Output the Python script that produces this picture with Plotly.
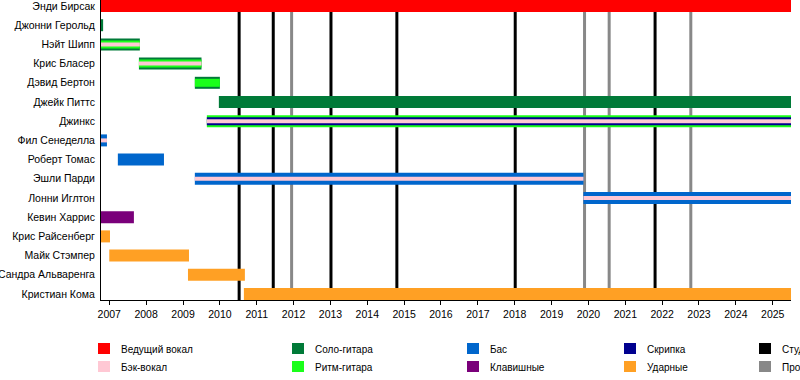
import pandas as pd
import plotly.graph_objects as go

# ---------------- data ----------------
members = ["Энди Бирсак", "Джонни Герольд", "Нэйт Шипп", "Крис Бласер", "Дэвид Бертон",
           "Джейк Питтс", "Джинкс", "Фил Сенеделла", "Роберт Томас", "Эшли Парди",
           "Лонни Иглтон", "Кевин Харрис", "Крис Райсенберг", "Майк Стэмпер",
           "Сандра Альваренга", "Кристиан Кома"]

timeline_start = "2006-10-11"
timeline_end = "2025-07-01"

roles = ["Ведущий вокал", "Бэк-вокал", "Соло-гитара", "Ритм-гитара",
         "Бас", "Клавишные", "Скрипка", "Ударные"]
role_colors = ["#FF0000", "#FFC8D4", "#007A38", "#1AFF1A",
               "#0066CC", "#7A007A", "#00008F", "#FFA024"]

# each period: member, start, end, role, tier (0 = main bar, 1 = inner, 2 = centre stripe)
bar_member = ["Энди Бирсак", "Джонни Герольд",
              "Нэйт Шипп", "Нэйт Шипп", "Нэйт Шипп",
              "Крис Бласер", "Крис Бласер", "Крис Бласер",
              "Дэвид Бертон", "Дэвид Бертон",
              "Джейк Питтс",
              "Джинкс", "Джинкс", "Джинкс",
              "Фил Сенеделла", "Фил Сенеделла",
              "Роберт Томас",
              "Эшли Парди", "Эшли Парди",
              "Лонни Иглтон", "Лонни Иглтон",
              "Кевин Харрис", "Крис Райсенберг", "Майк Стэмпер",
              "Сандра Альваренга", "Кристиан Кома"]
bar_start = ["2006-10-11", "2006-10-11",
             "2006-10-11", "2006-10-11", "2006-10-11",
             "2007-10-22", "2007-10-22", "2007-10-22",
             "2009-04-28", "2009-04-28",
             "2009-12-22",
             "2009-08-25", "2009-08-25", "2009-08-25",
             "2006-10-11", "2006-10-11",
             "2007-03-27",
             "2009-04-28", "2009-04-28",
             "2019-11-13", "2019-11-13",
             "2006-10-11", "2006-10-11", "2007-01-01",
             "2009-02-19", "2010-08-27"]
bar_end = ["end", "2006-11-01",
           "2007-10-31", "2007-10-31", "2007-10-31",
           "2009-07-03", "2009-07-03", "2009-07-03",
           "2010-01-01", "2010-01-01",
           "end",
           "end", "end", "end",
           "2006-12-09", "2006-12-09",
           "2008-06-26",
           "2019-11-13", "2019-11-13",
           "end", "end",
           "2007-09-02", "2007-01-08", "2009-03-01",
           "2010-09-06", "end"]
bar_role = ["Ведущий вокал", "Соло-гитара",
            "Соло-гитара", "Ритм-гитара", "Бэк-вокал",
            "Соло-гитара", "Ритм-гитара", "Бэк-вокал",
            "Соло-гитара", "Ритм-гитара",
            "Соло-гитара",
            "Ритм-гитара", "Скрипка", "Бэк-вокал",
            "Бас", "Бэк-вокал",
            "Бас",
            "Бас", "Бэк-вокал",
            "Бас", "Бэк-вокал",
            "Клавишные", "Ударные", "Ударные",
            "Ударные", "Ударные"]
bar_tier = [0, 0,
            0, 1, 2,
            0, 1, 2,
            0, 1,
            0,
            0, 1, 2,
            0, 2,
            0,
            0, 2,
            0, 2,
            0, 0, 0,
            0, 0]

studio_albums = ["2010-07-11", "2011-06-14", "2013-01-06", "2014-10-21",
                 "2018-01-06", "2021-10-23"]
other_releases = ["2011-12-13", "2019-11-24", "2020-07-25", "2022-10-12"]

legend_labels = ["Ведущий вокал", "Бэк-вокал", "Соло-гитара", "Ритм-гитара",
                 "Бас", "Клавишные", "Скрипка", "Ударные",
                 "Студийные альбомы", "Прочие релизы"]
legend_colors = role_colors + ["#000000", "#888888"]

years = list(range(2007, 2026))

# ---------------- figure ----------------
FONT = "Liberation Sans, Arial, sans-serif"
W, H = 800, 380
ML, MR, MT, MB = 101, 9, 0, 80
PW, PH = W - ML - MR, H - MT - MB
ROW_PX = 19.2
tier_width = [12 / ROW_PX, 8 / ROW_PX, 4 / ROW_PX]

fig = go.Figure()
row_of = {m: i for i, m in enumerate(members)}

for tier in range(3):
    for role, color in zip(roles, role_colors):
        idx = [k for k in range(len(bar_member)) if bar_tier[k] == tier and bar_role[k] == role]
        if not idx:
            continue
        bases, durs, ys = [], [], []
        for k in idx:
            s = pd.Timestamp(bar_start[k])
            e = pd.Timestamp(timeline_end if bar_end[k] == "end" else bar_end[k])
            bases.append(s.strftime("%Y-%m-%d"))
            durs.append((e - s).total_seconds() * 1000)
            ys.append(row_of[bar_member[k]])
        fig.add_trace(go.Bar(
            orientation="h", base=bases, x=durs, y=ys,
            width=tier_width[tier], marker=dict(color=color, line=dict(width=0)),
            showlegend=False, hoverinfo="skip"))

for d in studio_albums:
    fig.add_shape(type="line", xref="x", yref="paper", x0=d, x1=d, y0=0, y1=1,
                  line=dict(color="#000000", width=3), layer="below")
for d in other_releases:
    fig.add_shape(type="line", xref="x", yref="paper", x0=d, x1=d, y0=0, y1=1,
                  line=dict(color="#888888", width=3), layer="below")

# manual legend (column-major, 2 rows)
col_px = [98, 292, 467, 624, 759]
row_py = [343, 361]
for i, (lab, col) in enumerate(zip(legend_labels, legend_colors)):
    c, r = divmod(i, 2)
    x0 = (col_px[c] - ML) / PW
    x1 = (col_px[c] + 12 - ML) / PW
    y0 = (PH - row_py[r]) / PH
    y1 = (PH - row_py[r] - 11) / PH
    fig.add_shape(type="rect", xref="paper", yref="paper", x0=x0, x1=x1, y0=y1, y1=y0,
                  fillcolor=col, line=dict(width=0))
    fig.add_annotation(xref="paper", yref="paper", x=(col_px[c] + 21 - ML) / PW,
                       y=(PH - row_py[r] - 6.5) / PH, text=lab, showarrow=False,
                       xanchor="left", yanchor="middle",
                       font=dict(family=FONT, size=10, color="#000000"))

fig.update_layout(
    width=W, height=H, margin=dict(l=ML, r=MR, t=MT, b=MB, autoexpand=False),
    paper_bgcolor="#FFFFFF", plot_bgcolor="#FFFFFF",
    barmode="overlay", showlegend=False,
    font=dict(family=FONT, size=10.5, color="#000000"),
)
fig.update_xaxes(
    type="date", range=[timeline_start, timeline_end], automargin=False,
    tickvals=[f"{y}-01-01" for y in years], ticktext=[str(y) for y in years],
    ticks="outside", ticklen=4, tickcolor="#000000",
    showline=True, linecolor="#000000", linewidth=1,
    showgrid=False, zeroline=False, fixedrange=True,
    tickfont=dict(family=FONT, size=10.5, color="#000000"),
)
fig.update_yaxes(
    range=[15 + 6 / ROW_PX, -6 / ROW_PX], autorange=False, automargin=False,
    tickvals=list(range(len(members))), ticktext=members,
    ticks="", showline=True, linecolor="#000000", linewidth=1,
    ticklabeloverflow="allow", ticklabelstandoff=3,
    showgrid=False, zeroline=False, fixedrange=True,
    tickfont=dict(family=FONT, size=10.5, color="#000000"),
)

fig.write_html("out.html", config={"displayModeBar": False},
               post_script="document.body.style.margin='0';document.body.style.overflow='hidden';")
